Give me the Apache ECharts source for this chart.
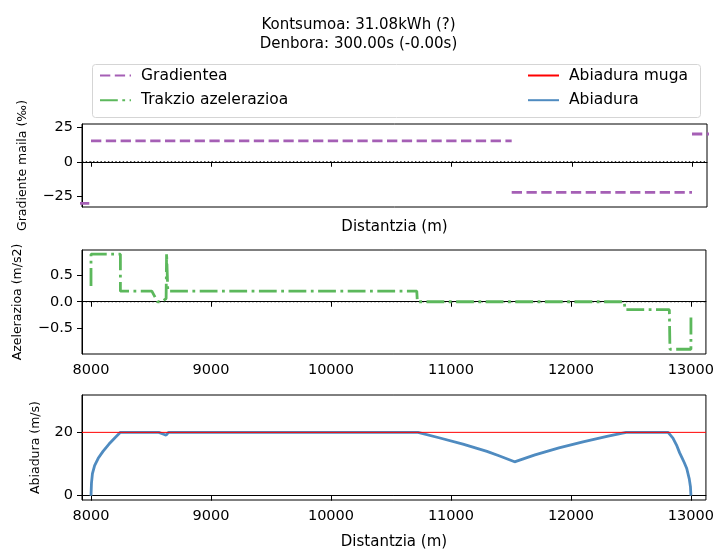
<!DOCTYPE html>
<html>
<head>
<meta charset="utf-8">
<script src="https://cdn.jsdelivr.net/npm/echarts@6/dist/echarts.min.js"></script>
<style>
  html, body { margin: 0; padding: 0; background: #fff; }
  #main { width: 717px; height: 551px; }
</style>
</head>
<body>
<div id="main"></div>
<script>
// tick positions / axis limits
const xTicks = [8000, 9000, 10000, 11000, 12000, 13000]
const xMin = 7925
const xMax = 13125
const gradTicks = [-25, 0, 25]
const accelTicks = [-0.5, 0, 0.5]
const speedTicks = [0, 20]

// gradient (‰): piecewise segments
const gradStart = [7900, 8000, 11500, 13000]
const gradEnd = [8000, 11500, 13000, 13200]
const gradValue = [-30, 15, -22, 20]

// traction acceleration (m/s2)
const accelX = [8000, 8000, 8245, 8245, 8507, 8555, 8590, 8626, 8630, 8633, 8636, 8640, 10715, 10720, 12445, 12450, 12820, 12825, 13000, 13000]
const accelY = [0.3, 0.9, 0.9, 0.2, 0.2, 0, 0, 0.06, 0.92, 0.9, 0.5, 0.2, 0.2, 0, 0, -0.15, -0.15, -0.9, -0.9, -0.3]

// speed (m/s)
const speedX = [8000, 8004, 8012, 8030, 8060, 8100, 8150, 8200, 8245, 8565, 8600, 8626, 8646, 10725, 10900, 11100, 11300, 11400, 11530, 11700, 11900, 12100, 12300, 12460, 12810, 12850, 12880, 12905, 12925, 12945, 12965, 12986, 12996, 13000]
const speedY = [0, 4, 7, 9.5, 11.8, 14, 16.3, 18.3, 20, 20, 19.5, 19.1, 20, 20, 18.3, 16.3, 14.0, 12.6, 10.7, 12.9, 15.1, 17.0, 18.7, 20, 20, 18.2, 16.0, 13.6, 12.0, 10.4, 8.6, 5.3, 2.8, 0]

// speed limit
const speedLimit = 20

const font = 'DejaVu Sans'
const minus = (s) => String(s).replace('-', '\u2212')

let gradData = []
gradStart.forEach((s, i) => {
    gradData.push([s, gradValue[i]], [gradEnd[i], gradValue[i]], [gradEnd[i], '-'])
})
const accelData = accelX.map((x, i) => [x, accelY[i]])
const speedData = speedX.map((x, i) => [x, speedY[i]])
const limitData = [[xMin, speedLimit], [xMax, speedLimit]]
const zeroData = [[xMin, 0], [xMax, 0]]

// dotted zero reference line
function zeroSeries (idx) {
    return {
        name: 'zero' + idx, type: 'line', xAxisIndex: idx, yAxisIndex: idx,
        data: zeroData, showSymbol: false, symbol: 'none', silent: true, z: 1,
        lineStyle: { color: '#000', width: 1.1, type: [1.4, 2.3] }
    }
}

function xAxisOf (idx, labels, name, gap) {
    return {
        type: 'value', gridIndex: idx, min: xMin, max: xMax,
        name: name, nameLocation: 'middle', nameGap: gap,
        nameTextStyle: { color: '#000', fontSize: 15, fontFamily: font },
        axisLine: { show: true, lineStyle: { color: '#000', width: 1 } },
        axisTick: { show: true, length: 5, customValues: xTicks, lineStyle: { color: '#000' } },
        axisLabel: { show: labels, customValues: xTicks, margin: 9, color: '#000', fontSize: 14.5, fontFamily: font, formatter: (v) => String(v) },
        splitLine: { show: false }
    }
}

function yAxisOf (idx, min, max, ticks, name, gap, fmt) {
    return {
        type: 'value', gridIndex: idx, min: min, max: max,
        name: name, nameLocation: 'middle', nameGap: gap, nameRotate: 90,
        nameTextStyle: { color: '#000', fontSize: 12.5, fontFamily: font },
        axisLine: { show: true, lineStyle: { color: '#000', width: 1 } },
        axisTick: { show: true, length: 5, customValues: ticks, lineStyle: { color: '#000' } },
        axisLabel: { customValues: ticks, margin: 9, color: '#000', fontSize: 14.5, fontFamily: font, formatter: fmt },
        splitLine: { show: false }
    }
}

const gridBase = { left: 82, right: 10, show: true, borderColor: '#000', borderWidth: 1 }
const legendBase = {
    orient: 'vertical', top: 62, itemWidth: 31, itemHeight: 14, itemGap: 7.7,
    itemStyle: { opacity: 0 },
    textStyle: { color: '#000', fontSize: 15.5, lineHeight: 17, fontFamily: font, padding: [0, 0, 0, 5] }
}

const option = {
    animation: false,
    title: {
        text: 'Kontsumoa: 31.08kWh (?)\nDenbora: 300.00s (-0.00s)',
        left: 'center', top: 11,
        textStyle: { color: '#000', fontSize: 15, fontWeight: 'normal', lineHeight: 18.6, fontFamily: font }
    },
    legend: [
        Object.assign({ left: 94, data: ['Gradientea', 'Trakzio azelerazioa'] }, legendBase),
        Object.assign({ left: 522, data: ['Abiadura muga', 'Abiadura'] }, legendBase)
    ],
    graphic: [{
        type: 'rect', left: 90, top: 62, silent: true,
        shape: { width: 608, height: 53, r: 3 },
        style: { fill: 'none', stroke: '#d5d5d5', lineWidth: 1 }
    }],
    grid: [
        Object.assign({ top: 124, height: 83 }, gridBase),
        Object.assign({ top: 250, height: 104 }, gridBase),
        Object.assign({ top: 395, height: 105 }, gridBase)
    ],
    xAxis: [
        xAxisOf(0, false, 'Distantzia (m)', 13),
        xAxisOf(1, true, '', 30),
        xAxisOf(2, true, 'Distantzia (m)', 35)
    ],
    yAxis: [
        yAxisOf(0, -32.6, 27.2, gradTicks, 'Gradiente maila (‰)', 53, (v) => minus(v)),
        yAxisOf(1, -0.99, 0.98, accelTicks, 'Azelerazioa (m/s2)', 58, (v) => minus(v.toFixed(1))),
        yAxisOf(2, -1.36, 31.8, speedTicks, 'Abiadura (m/s)', 40, (v) => minus(v))
    ],
    series: [
        zeroSeries(0),
        zeroSeries(1),
        {
            name: 'Gradientea', type: 'line', xAxisIndex: 0, yAxisIndex: 0,
            data: gradData, showSymbol: false, symbol: 'none', connectNulls: false,
            color: '#a55fb5',
            lineStyle: { color: '#a55fb5', width: 2.8, type: [10.3, 4.5] }
        },
        {
            name: 'Trakzio azelerazioa', type: 'line', xAxisIndex: 1, yAxisIndex: 1,
            data: accelData, showSymbol: false, symbol: 'none',
            color: '#5cb85c',
            lineStyle: { color: '#5cb85c', width: 2.8, type: [17.8, 4.5, 2.8, 4.5] }
        },
        {
            name: 'Abiadura', type: 'line', xAxisIndex: 2, yAxisIndex: 2,
            data: speedData, showSymbol: false, symbol: 'none',
            color: '#4f8bc0',
            lineStyle: { color: '#4f8bc0', width: 2.8 }
        },
        {
            name: 'Abiadura muga', type: 'line', xAxisIndex: 2, yAxisIndex: 2,
            data: limitData, showSymbol: false, symbol: 'none',
            color: '#ff0000',
            lineStyle: { color: '#ff0000', width: 1 }
        }
    ]
}

const myChart = echarts.init(document.getElementById('main'))
myChart.setOption(option)
</script>
</body>
</html>
